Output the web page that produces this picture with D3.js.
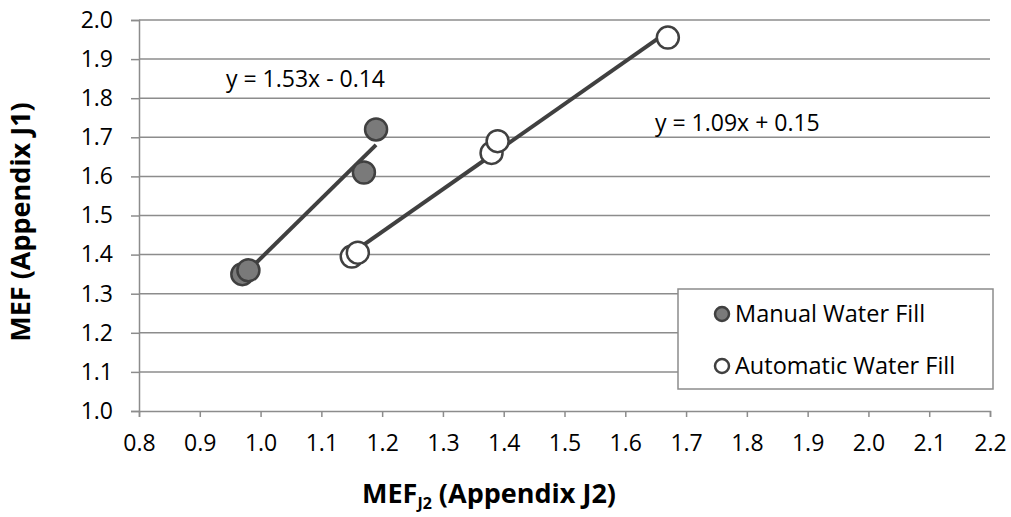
<!DOCTYPE html>
<html>
<head>
<meta charset="utf-8">
<script src="https://cdn.jsdelivr.net/npm/d3@7"></script>
<style>
  body { margin: 0; background: #fff; }
  text { font-family: "Open Sans", sans-serif; fill: #000; }
</style>
</head>
<body>
<div id="chart"></div>
<script>
// series values
var manualX = [0.97, 0.98, 1.17, 1.19];
var manualY = [1.35, 1.36, 1.61, 1.72];
var autoX = [1.15, 1.16, 1.38, 1.39, 1.67];
var autoY = [1.395, 1.405, 1.66, 1.69, 1.955];

// trendline coefficients (as labelled)
var trendSlope = [1.53, 1.09];
var trendIntercept = [-0.14, 0.15];
var trendLabels = ["y = 1.53x - 0.14", "y = 1.09x + 0.15"];

var seriesNames = ["Manual Water Fill", "Automatic Water Fill"];
var xTicks = [0.8, 0.9, 1.0, 1.1, 1.2, 1.3, 1.4, 1.5, 1.6, 1.7, 1.8, 1.9, 2.0, 2.1, 2.2];
var yTicks = [1.0, 1.1, 1.2, 1.3, 1.4, 1.5, 1.6, 1.7, 1.8, 1.9, 2.0];

var width = 1011, height = 517;
var svg = d3.select("#chart").append("svg")
    .attr("width", width)
    .attr("height", height);

var x = d3.scaleLinear().domain([0.8, 2.2]).range([139, 990]);
var y = d3.scaleLinear().domain([1.0, 2.0]).range([411, 20]);

var fills = ["#7a7a7a", "#ffffff"];
var ink = "#404040";
var fs = "23px";

// gridlines
svg.append("g")
    .selectAll("line")
    .data(yTicks.slice(1))
    .enter()
    .append("line")
    .attr("x1", x(0.8))
    .attr("x2", x(2.2))
    .attr("y1", function(d) { return y(d); })
    .attr("y2", function(d) { return y(d); })
    .attr("stroke", "#8c8c8c")
    .attr("stroke-width", 1.5);

// axes
var xAxis = svg.append("g")
    .attr("transform", "translate(0," + y(1.0) + ")")
    .call(d3.axisBottom(x).tickValues(xTicks).tickFormat(d3.format(".1f")).tickSize(6).tickPadding(18));
var yAxis = svg.append("g")
    .attr("transform", "translate(" + x(0.8) + ",0)")
    .call(d3.axisLeft(y).tickValues(yTicks).tickFormat(d3.format(".1f")).tickSize(8).tickPadding(18));

[xAxis, yAxis].forEach(function(a) {
    a.attr("font-size", null).attr("font-family", null);
    a.select(".domain").attr("stroke", "#8c8c8c").attr("stroke-width", 1.5);
    a.selectAll(".tick line").attr("stroke", "#8c8c8c").attr("stroke-width", 1.5);
    a.selectAll(".tick text")
        .style("font-size", fs)
        .attr("fill", "#000");
});

// trendlines
var seriesX = [manualX, autoX];
var seriesY = [manualY, autoY];
seriesX.forEach(function(xs, i) {
    var x0 = d3.min(xs), x1 = d3.max(xs);
    svg.append("line")
        .attr("x1", x(x0))
        .attr("y1", y(trendSlope[i] * x0 + trendIntercept[i]))
        .attr("x2", x(x1))
        .attr("y2", y(trendSlope[i] * x1 + trendIntercept[i]))
        .attr("stroke", ink)
        .attr("stroke-width", 4);
});

// points
seriesX.forEach(function(xs, i) {
    var pts = xs.map(function(v, j) { return [v, seriesY[i][j]]; });
    svg.append("g")
        .selectAll("circle")
        .data(pts)
        .enter()
        .append("circle")
        .attr("cx", function(d) { return x(d[0]); })
        .attr("cy", function(d) { return y(d[1]); })
        .attr("r", 11)
        .attr("fill", fills[i])
        .attr("stroke", ink)
        .attr("stroke-width", 2.5);
});

// equation labels
var labelPos = [[226, 87], [655, 131]];
trendLabels.forEach(function(t, i) {
    svg.append("text")
        .attr("x", labelPos[i][0])
        .attr("y", labelPos[i][1])
        .style("font-size", fs)
        .text(t);
});

// legend
var legend = svg.append("g");
legend.append("rect")
    .attr("x", 678).attr("y", 289)
    .attr("width", 315).attr("height", 100)
    .attr("fill", "#fff")
    .attr("stroke", "#8c8c8c")
    .attr("stroke-width", 1.5);
seriesNames.forEach(function(name, i) {
    var cy = 314 + i * 52;
    legend.append("circle")
        .attr("cx", 722).attr("cy", cy).attr("r", 7)
        .attr("fill", fills[i])
        .attr("stroke", ink)
        .attr("stroke-width", 2.5);
    legend.append("text")
        .attr("x", 735).attr("y", cy + 8)
        .style("font-size", "23.5px")
        .text(name);
});

// axis titles
svg.append("text")
    .attr("transform", "translate(30,222) rotate(-90)")
    .attr("text-anchor", "middle")
    .style("font-size", "27px")
    .style("font-weight", "bold")
    .text("MEF  (Appendix J1)");

var xt = svg.append("text")
    .attr("x", 489).attr("y", 503)
    .attr("text-anchor", "middle")
    .style("font-size", "27px")
    .style("font-weight", "bold");
xt.append("tspan").text("MEF");
xt.append("tspan").attr("dy", 6).style("font-size", "16px").text("J2");
xt.append("tspan").attr("dy", -6).text(" (Appendix J2)");
</script>
</body>
</html>
